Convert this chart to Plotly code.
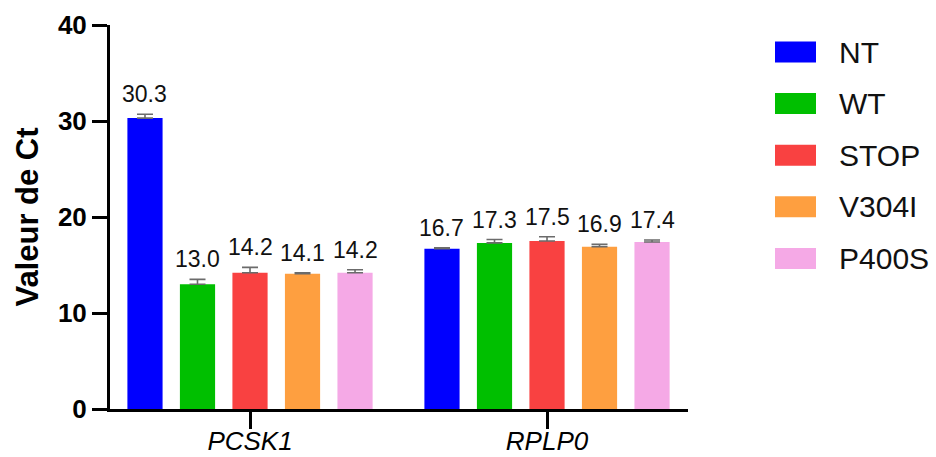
import plotly.graph_objects as go

# ---- data ----
categories = ["PCSK1", "RPLP0"]
series_names = ["NT", "WT", "STOP", "V304I", "P400S"]
colors = ["#0000FF", "#00BF00", "#F94141", "#FE9F40", "#F5A9E6"]
nt_vals = [30.3, 16.7]
wt_vals = [13.0, 17.3]
stop_vals = [14.2, 17.5]
v304i_vals = [14.1, 16.9]
p400s_vals = [14.2, 17.4]
nt_err = [0.4, 0.1]
wt_err = [0.5, 0.35]
stop_err = [0.55, 0.45]
v304i_err = [0.1, 0.25]
p400s_err = [0.3, 0.2]
y_ticks = [0, 10, 20, 30, 40]

values = [nt_vals, wt_vals, stop_vals, v304i_vals, p400s_vals]
errors = [nt_err, wt_err, stop_err, v304i_err, p400s_err]

FONT = "Liberation Sans, Arial, Helvetica, sans-serif"
W, H = 936, 457
ML, MR, MT, MB = 110, 248, 25, 48
BARGAP = 0.116
BARGROUPGAP = 0.33

fig = go.Figure()
for name, col, vals, errs in zip(series_names, colors, values, errors):
    fig.add_trace(go.Bar(
        x=categories, y=vals, name=name,
        marker=dict(color=col, line=dict(width=0)),
        error_y=dict(type="data", array=errs, arrayminus=[0] * len(errs),
                     symmetric=False, color="#6b6b6b", thickness=1.6, width=8),
        showlegend=False,
    ))

# value labels above error bars
n = len(series_names)
slot = (1 - BARGAP) / n
annotations = []
for i, (vals, errs) in enumerate(zip(values, errors)):
    for j, (v, e) in enumerate(zip(vals, errs)):
        annotations.append(dict(
            x=j + (i - (n - 1) / 2) * slot, y=v + e, xref="x", yref="y",
            text=f"{v:.1f}", showarrow=False, yanchor="bottom", yshift=5,
            font=dict(family=FONT, size=23, color="#111111"),
        ))

# custom legend (large swatches)
pw = W - ML - MR
ph = H - MT - MB
def px_x(p):
    return (p - ML) / pw
def px_y(p):
    return (H - MB - p) / ph

shapes = []
for k, (name, col) in enumerate(zip(series_names, colors)):
    cy = 52 + k * 51.6
    shapes.append(dict(type="rect", xref="paper", yref="paper",
                       x0=px_x(775), x1=px_x(816), y0=px_y(cy + 10.5), y1=px_y(cy - 10.5),
                       fillcolor=col, line=dict(width=0)))
    annotations.append(dict(x=px_x(837), y=px_y(cy), xref="paper", yref="paper",
                            text=name, showarrow=False, xanchor="left", yanchor="middle",
                            font=dict(family=FONT, size=30, color="#111111")))

fig.update_layout(
    template="none",
    width=W, height=H,
    margin=dict(l=ML, r=MR, t=MT, b=MB, pad=0, autoexpand=False),
    paper_bgcolor="white", plot_bgcolor="white",
    barmode="group", bargap=BARGAP, bargroupgap=BARGROUPGAP,
    showlegend=False,
    annotations=annotations, shapes=shapes,
    font=dict(family=FONT, color="black"),
)
fig.update_xaxes(
    type="category", range=[-0.4714, 1.4747], automargin=False,
    showline=True, linecolor="black", linewidth=3,
    ticks="outside", ticklen=17, tickwidth=3, tickcolor="black",
    ticklabelstandoff=-10,
    tickfont=dict(family=FONT, size=26, style="italic", color="black"),
    showgrid=False, zeroline=False,
)
fig.update_yaxes(
    range=[0, 40], tickvals=y_ticks, automargin=False,
    showline=True, linecolor="black", linewidth=3,
    ticks="outside", ticklen=15, tickwidth=3, tickcolor="black",
    tickfont=dict(family=FONT, size=26, weight="bold", color="black"),
    title=dict(text="Valeur de Ct", standoff=11,
               font=dict(family=FONT, size=31, weight="bold", color="black")),
    showgrid=False, zeroline=False,
)

fig.write_html("out.html", config={"displayModeBar": False},
               post_script="document.body.style.margin='0';document.body.style.overflow='hidden';")
